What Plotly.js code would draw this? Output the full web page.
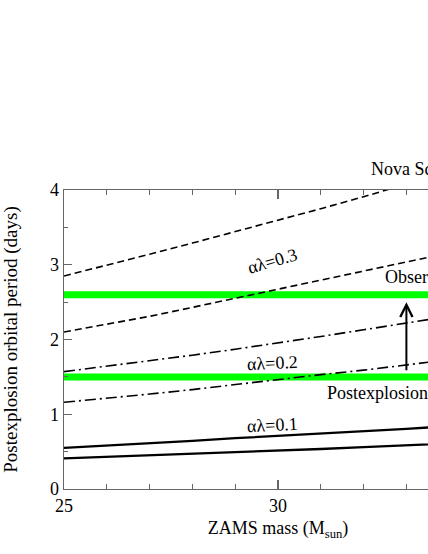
<!DOCTYPE html>
<html>
<head>
<meta charset="utf-8">
<script src="https://cdn.plot.ly/plotly-3.0.1.min.js"></script>
<style>
html,body{margin:0;padding:0;overflow:hidden;background:#fff;}
#chart{width:500px;height:554px;}
</style>
</head>
<body>
<div id="chart"></div>
<script>
// ZAMS mass (M_sun)
const mass = [25, 26, 27, 28, 29, 30, 31, 32, 33, 34, 35];
// alpha*lambda = 0.3 (dashed)
const al03_upper = [2.85, 2.99, 3.14, 3.29, 3.44, 3.59, 3.75, 3.91, 4.08, 4.25, 4.42];
const al03_lower = [2.10, 2.20, 2.31, 2.43, 2.55, 2.67, 2.79, 2.91, 3.03, 3.15, 3.28];
// alpha*lambda = 0.2 (dash-dot)
const al02_upper = [1.57, 1.64, 1.71, 1.79, 1.87, 1.95, 2.04, 2.13, 2.22, 2.31, 2.40];
const al02_lower = [1.16, 1.21, 1.27, 1.33, 1.40, 1.46, 1.53, 1.59, 1.66, 1.73, 1.80];
// alpha*lambda = 0.1 (solid)
const al01_upper = [0.55, 0.58, 0.61, 0.645, 0.68, 0.71, 0.74, 0.77, 0.805, 0.84, 0.87];
const al01_lower = [0.41, 0.43, 0.45, 0.47, 0.49, 0.51, 0.535, 0.56, 0.585, 0.61, 0.635];
// horizontal bands (days)
const observedPeriod = 2.6;
const postexplosionPeriod = 1.5;
const bandX = [25, 35];
// arrow from postexplosion to observed
const arrowMass = 33;
const arrowFrom = 1.57;
const arrowTo = 2.5;
const labels = ["αλ=0.3", "αλ=0.2", "αλ=0.1"];

const font = "Liberation Serif";

function curve(y, dash, w) {
  return {x: mass, y: y, mode: "lines", type: "scatter",
    line: {color: "#000", width: w, dash: dash}, hoverinfo: "skip", showlegend: false};
}
function band(v) {
  return {x: bandX, y: [v, v], mode: "lines", type: "scatter",
    line: {color: "#00ff00", width: 7}, hoverinfo: "skip", showlegend: false};
}

const traces = [
  band(observedPeriod),
  band(postexplosionPeriod),
  curve(al03_upper, "7px,4px", 1.6),
  curve(al03_lower, "7px,4px", 1.6),
  curve(al02_upper, "11px,4px,2px,4px", 1.6),
  curve(al02_lower, "11px,4px,2px,4px", 1.6),
  curve(al01_upper, "solid", 2.3),
  curve(al01_lower, "solid", 2.3)
];

const axisCommon = {
  showline: true, mirror: "ticks", linecolor: "#666", linewidth: 1.3,
  ticks: "inside", tickcolor: "#666", tickwidth: 1.2, ticklen: 9,
  showgrid: false, zeroline: false,
  tickfont: {family: font, size: 18, color: "#000"}
};

const layout = {
  width: 500, height: 554,
  margin: {l: 64, r: 8, t: 190, b: 65},
  paper_bgcolor: "#fff", plot_bgcolor: "#fff",
  font: {family: font, color: "#000"},
  xaxis: Object.assign({}, axisCommon, {
    range: [25, 35], dtick: 5, tick0: 25,
    minor: {ticks: "inside", dtick: 1, ticklen: 5, tickcolor: "#666", tickwidth: 1.2},
    title: {text: "ZAMS mass (M<sub>sun</sub>)", font: {family: font, size: 18, color: "#000"}, standoff: 6}
  }),
  yaxis: Object.assign({}, axisCommon, {
    range: [0, 4], dtick: 1, tick0: 0, ticklen: 8,
    minor: {ticks: "inside", dtick: 0.5, ticklen: 4, tickcolor: "#666", tickwidth: 1.2},
    title: {text: "Postexplosion orbital period (days)", font: {family: font, size: 19, color: "#000"}, standoff: 28}
  }),
  annotations: [
    {xref: "paper", yref: "paper", x: (369 - 64) / 428, y: 1.07, xanchor: "left", yanchor: "middle",
     text: "Nova Sco 1994", showarrow: false, font: {family: font, size: 18, color: "#000"}},
    {x: 29.88, y: 3.05, text: labels[0], showarrow: false, textangle: -16,
     font: {family: font, size: 18, color: "#000"}},
    {x: 29.88, y: 1.69, text: labels[1], showarrow: false, textangle: -3,
     font: {family: font, size: 18, color: "#000"}},
    {x: 29.88, y: 0.86, text: labels[2], showarrow: false, textangle: -3,
     font: {family: font, size: 18, color: "#000"}},
    {x: 32.45, y: 2.84, text: "Observed", showarrow: false, xanchor: "left",
     font: {family: font, size: 18, color: "#000"}},
    {x: 31.1, y: 1.29, text: "Postexplosion", showarrow: false, xanchor: "left",
     font: {family: font, size: 18, color: "#000"}},
    {x: arrowMass, y: arrowTo, ax: arrowMass, ay: arrowFrom, axref: "x", ayref: "y",
     text: "", showarrow: true, arrowhead: 5, arrowsize: 1.2, arrowwidth: 2, arrowcolor: "#000", standoff: 0}
  ]
};

Plotly.newPlot("chart", traces, layout, {displayModeBar: false, staticPlot: true});
</script>
</body>
</html>
